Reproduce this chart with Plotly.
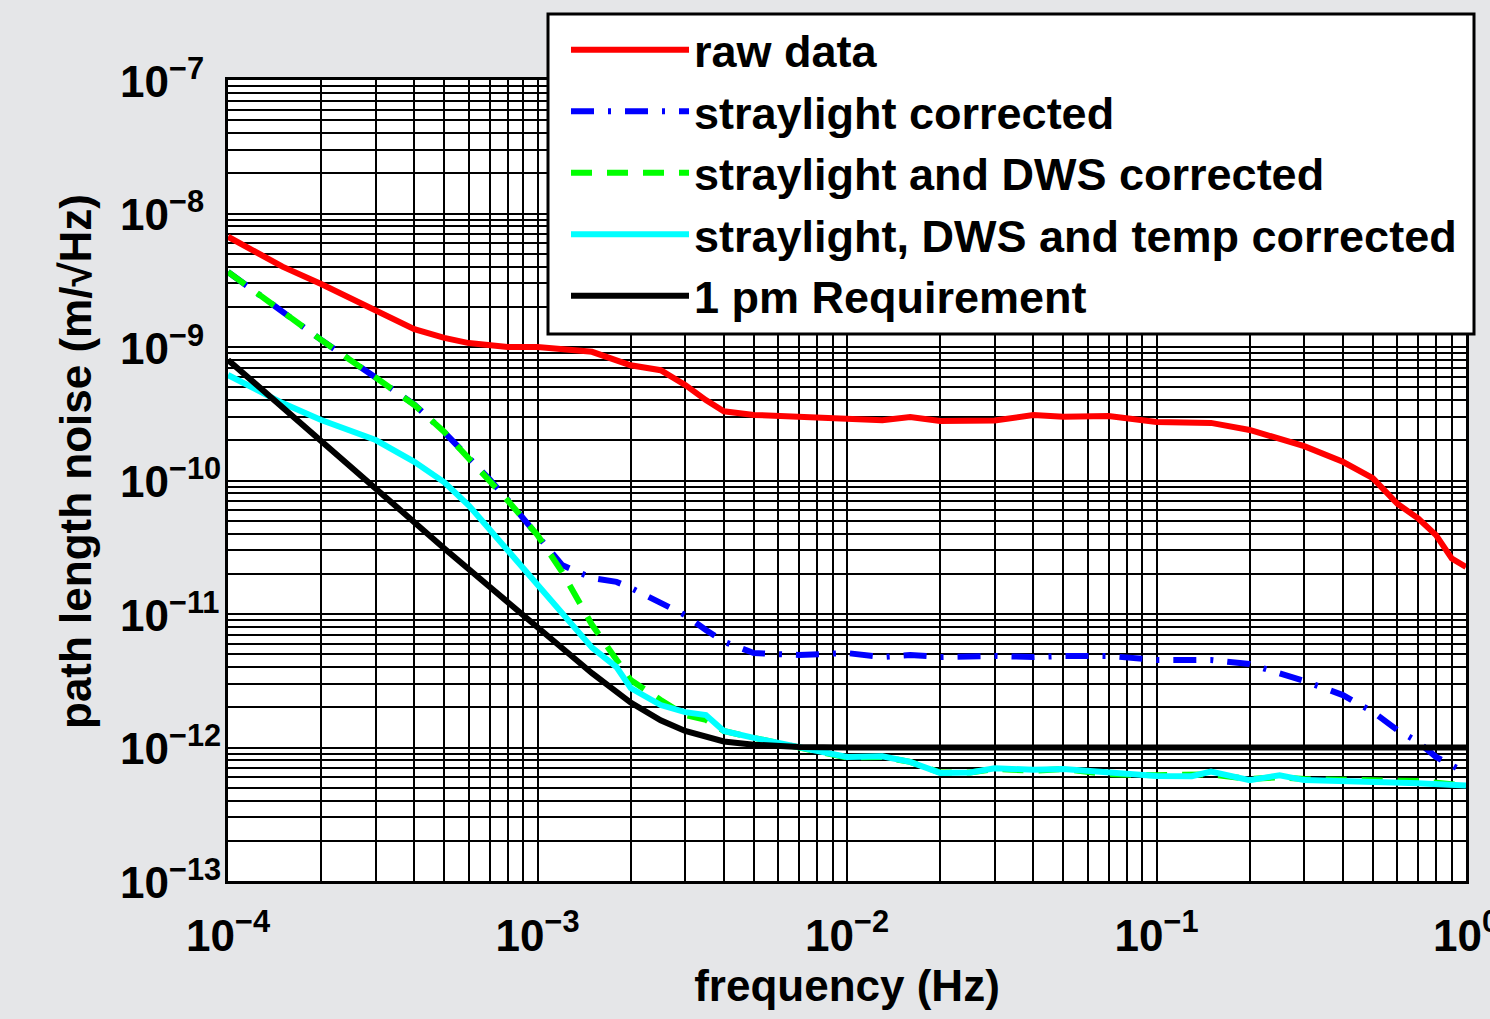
import plotly.graph_objects as go

# ---------------- data ----------------
freq_raw = [1e-4, 1.5e-4, 2e-4, 3e-4, 4e-4, 5e-4, 6e-4, 8e-4, 1e-3, 1.5e-3, 2e-3, 2.5e-3,
            3e-3, 3.5e-3, 4e-3, 5e-3, 7e-3, 1e-2, 1.3e-2, 1.6e-2, 2e-2, 3e-2, 4e-2, 5e-2,
            7e-2, 1e-1, 1.5e-1, 2e-1, 2.5e-1, 3e-1, 4e-1, 5e-1, 6e-1, 7e-1, 8e-1, 9e-1, 1.0]
raw_data = [6.7e-9, 4.0e-9, 2.96e-9, 1.89e-9, 1.36e-9, 1.17e-9, 1.07e-9, 1.0e-9, 1.0e-9,
            9.2e-10, 7.3e-10, 6.7e-10, 5.2e-10, 4.0e-10, 3.3e-10, 3.1e-10, 3.0e-10, 2.94e-10,
            2.83e-10, 2.99e-10, 2.79e-10, 2.82e-10, 3.09e-10, 3.0e-10, 3.04e-10, 2.74e-10,
            2.7e-10, 2.39e-10, 2.08e-10, 1.81e-10, 1.38e-10, 1.04e-10, 6.7e-11, 5.2e-11,
            3.9e-11, 2.6e-11, 2.25e-11]

freq_sl = [1e-4, 1.5e-4, 2e-4, 3e-4, 4e-4, 5e-4, 6e-4, 7e-4, 8e-4, 1e-3, 1.2e-3, 1.5e-3,
           1.8e-3, 2e-3, 2.5e-3, 3e-3, 3.5e-3, 4e-3, 5e-3, 7e-3, 1e-2, 1.3e-2, 1.6e-2, 2e-2,
           3e-2, 4e-2, 5e-2, 7e-2, 1e-1, 1.5e-1, 2e-1, 2.5e-1, 3e-1, 4e-1, 5e-1, 6e-1, 7e-1,
           8e-1, 1.0]
straylight = [3.65e-9, 1.83e-9, 1.13e-9, 5.9e-10, 3.7e-10, 2.3e-10, 1.5e-10, 1.02e-10, 7.2e-11,
              3.9e-11, 2.33e-11, 1.86e-11, 1.74e-11, 1.57e-11, 1.23e-11, 9.8e-12, 7.6e-12,
              6.2e-12, 5.1e-12, 4.93e-12, 5.1e-12, 4.76e-12, 4.93e-12, 4.76e-12, 4.85e-12,
              4.76e-12, 4.85e-12, 4.85e-12, 4.52e-12, 4.52e-12, 4.22e-12, 3.61e-12, 3.15e-12,
              2.47e-12, 1.85e-12, 1.35e-12, 1.1e-12, 8.5e-13, 6.45e-13]

freq_c = [1e-4, 1.5e-4, 2e-4, 3e-4, 4e-4, 5e-4, 6e-4, 7e-4, 8e-4, 1e-3, 1.2e-3, 1.5e-3,
          1.8e-3, 2e-3, 2.5e-3, 3e-3, 3.5e-3, 4e-3, 5e-3, 7e-3, 1e-2, 1.3e-2, 1.6e-2, 2e-2,
          2.5e-2, 3e-2, 4e-2, 5e-2, 7e-2, 1e-1, 1.3e-1, 1.5e-1, 2e-1, 2.5e-1, 3e-1, 5e-1,
          7e-1, 1.0]
sl_dws = [3.65e-9, 1.83e-9, 1.13e-9, 5.9e-10, 3.68e-10, 2.31e-10, 1.47e-10, 1.01e-10, 7.1e-11,
          3.9e-11, 2.07e-11, 8.3e-12, 4.5e-12, 3.2e-12, 2.27e-12, 1.75e-12, 1.61e-12, 1.33e-12,
          1.18e-12, 1.0e-12, 8.4e-13, 8.5e-13, 7.8e-13, 6.5e-13, 6.5e-13, 6.9e-13, 6.7e-13,
          6.9e-13, 6.3e-13, 6.2e-13, 6.2e-13, 6.3e-13, 5.8e-13, 6.0e-13, 5.8e-13, 5.7e-13,
          5.6e-13, 5.2e-13]
sl_dws_temp = [6.17e-10, 3.8e-10, 2.84e-10, 2.01e-10, 1.38e-10, 9.7e-11, 6.5e-11, 4.3e-11,
               3.0e-11, 1.65e-11, 9.8e-12, 5.6e-12, 4.0e-12, 2.79e-12, 2.08e-12, 1.84e-12,
               1.75e-12, 1.33e-12, 1.18e-12, 1.01e-12, 8.5e-13, 8.6e-13, 7.8e-13, 6.45e-13,
               6.5e-13, 7.0e-13, 6.8e-13, 6.9e-13, 6.45e-13, 6.12e-13, 6.1e-13, 6.6e-13,
               5.7e-13, 6.2e-13, 5.7e-13, 5.6e-13, 5.4e-13, 5.2e-13]

freq_req = [1e-4, 2e-4, 3e-4, 5e-4, 7e-4, 1e-3, 1.5e-3, 2e-3, 2.5e-3, 3e-3, 4e-3, 5e-3,
            7e-3, 1e-2, 1e-1, 1.0]
requirement = [8.0e-10, 1.96e-10, 8.7e-11, 3.1e-11, 1.6e-11, 7.9e-12, 3.6e-12, 2.17e-12,
               1.6e-12, 1.33e-12, 1.11e-12, 1.05e-12, 1.01e-12, 1.0e-12, 1.0e-12, 1.0e-12]

x_tickvals = [1e-4, 1e-3, 1e-2, 1e-1, 1.0]
x_ticktext = ["10<sup>\u22124</sup>", "10<sup>\u22123</sup>", "10<sup>\u22122</sup>",
              "10<sup>\u22121</sup>", "10<sup>0</sup>"]
y_tick_exponents = [-13, -12, -11, -10, -9, -8, -7]
y_ticktext = ["10<sup>\u221213</sup>", "10<sup>\u221212</sup>", "10<sup>\u221211</sup>",
              "10<sup>\u221210</sup>", "10<sup>\u22129</sup>", "10<sup>\u22128</sup>",
              "10<sup>\u22127</sup>"]

FONT = "Liberation Sans, Arial, Helvetica, sans-serif"
BG = "#e5e6e8"
W, H = 1490, 1019
ML, MR, MT, MB = 228, 24, 80, 138
PW, PH = W - ML - MR, H - MT - MB
LW = 6


def px_x(px):
    return (px - ML) / PW


def px_y(py):
    return (H - MB - py) / PH


fig = go.Figure()
fig.add_trace(go.Scatter(x=freq_raw, y=raw_data, mode="lines", name="raw data",
                         legendgroup="a", line=dict(color="#ff0000", width=LW)))
fig.add_trace(go.Scatter(x=freq_sl, y=straylight, mode="lines", name="straylight corrected",
                         legendgroup="b",
                         line=dict(color="#0000ff", width=LW, dash="23px,14px,3px,14px")))
fig.add_trace(go.Scatter(x=freq_c, y=sl_dws, mode="lines", name="straylight and DWS corrected",
                         legendgroup="c",
                         line=dict(color="#00ff00", width=LW, dash="21px,15px")))
fig.add_trace(go.Scatter(x=freq_c, y=sl_dws_temp, mode="lines",
                         name="straylight, DWS and temp corrected",
                         legendgroup="d", line=dict(color="#00ffff", width=LW)))
fig.add_trace(go.Scatter(x=freq_req, y=requirement, mode="lines", name="1 pm Requirement",
                         legendgroup="e", line=dict(color="#000000", width=LW)))

axis_common = dict(
    showline=True, linecolor="black", linewidth=3, mirror=True,
    showgrid=True, gridcolor="black", gridwidth=2,
    ticks="", zeroline=False, automargin=False,
    tickfont=dict(family=FONT, size=44, color="black", weight="bold"),
    minor=dict(dtick="D1", showgrid=True, gridcolor="black", gridwidth=2, ticks=""),
)

fig.update_xaxes(type="log", range=[-4, 0], tickmode="array",
                 tickvals=x_tickvals, ticktext=x_ticktext,
                 ticklabeloverflow="allow", ticklabelstandoff=14,
                 title=dict(text="frequency (Hz)", standoff=12,
                            font=dict(family=FONT, size=44, color="black", weight="bold")),
                 **axis_common)
fig.update_yaxes(type="log", range=[-13, -7], tickmode="array",
                 tickvals=[10.0 ** e for e in y_tick_exponents], showticklabels=False,
                 **axis_common)

# y tick labels: MATLAB-style, base "10" left-aligned at a common position
for e, txt in zip(y_tick_exponents, y_ticktext):
    fig.add_annotation(x=px_x(118), xref="paper", y=e, yref="y", yshift=2,
                       text=txt, showarrow=False, xanchor="left", yanchor="middle",
                       font=dict(family=FONT, size=44, color="black", weight="bold"))

# y axis title
fig.add_annotation(x=px_x(75), xref="paper", y=px_y(462), yref="paper",
                   text="path length noise (m/\u221aHz)", textangle=-90, showarrow=False,
                   xanchor="center", yanchor="middle",
                   font=dict(family=FONT, size=44, color="black", weight="bold"))

# legend frame (white box with thick black border)
fig.add_shape(type="rect", xref="paper", yref="paper",
              x0=px_x(548), x1=px_x(1474), y0=px_y(334), y1=px_y(14),
              fillcolor="white", line=dict(color="black", width=3), layer="above")

fig.update_layout(
    width=W, height=H,
    margin=dict(l=ML, r=MR, t=MT, b=MB),
    paper_bgcolor=BG, plot_bgcolor="white",
    font=dict(family=FONT, size=44, color="black", weight="bold"),
    legend=dict(x=px_x(566), y=px_y(14), xanchor="left", yanchor="top",
                bgcolor="rgba(0,0,0,0)", borderwidth=0,
                font=dict(family=FONT, size=45, color="black", weight="bold"),
                itemwidth=118, tracegroupgap=0, traceorder="grouped"),
    showlegend=True,
)

fig.write_html("out.html", config={"displayModeBar": False},
               post_script="document.body.style.margin='0';")
